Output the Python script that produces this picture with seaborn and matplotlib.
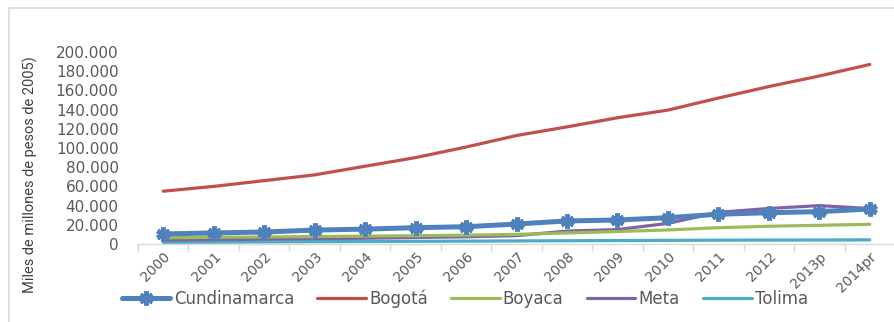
import matplotlib
matplotlib.use("Agg")
import matplotlib.pyplot as plt
import seaborn as sns
import pandas as pd
import numpy as np
from matplotlib.patches import Rectangle
from matplotlib.ticker import FuncFormatter, FixedLocator

years = ["2000", "2001", "2002", "2003", "2004", "2005", "2006", "2007",
         "2008", "2009", "2010", "2011", "2012", "2013p", "2014pr"]
cundinamarca = [10.5, 11.5, 12.5, 14.5, 15.5, 17.0, 18.0, 20.8, 24.0, 25.0, 27.4, 31.0, 32.6, 33.7, 36.5]
bogota = [55, 60, 66, 72, 81, 90, 101, 113, 122, 131.5, 139.5, 152, 164, 175, 187]
boyaca = [6.5, 7.0, 7.3, 7.8, 8.2, 8.6, 9.2, 10.0, 11.5, 13.0, 14.6, 17.0, 18.5, 19.5, 20.5]
meta = [4.0, 4.5, 5.0, 5.5, 6.0, 6.8, 7.5, 8.7, 13.5, 15.0, 21.5, 33.0, 37.0, 40.0, 37.0]
tolima = [1.8, 2.0, 2.2, 2.4, 2.6, 2.8, 3.0, 3.2, 3.4, 3.6, 3.8, 4.0, 4.1, 4.2, 4.3]
series_names = ["Cundinamarca", "Bogotá", "Boyaca", "Meta", "Tolima"]
series_vals = [cundinamarca, bogota, boyaca, meta, tolima]
colors = ["#4F81BD", "#C0504D", "#9BBB59", "#8064A2", "#4BACC6"]
yticks = [0, 20000, 40000, 60000, 80000, 100000, 120000, 140000, 160000, 180000, 200000]
ylabel = "Miles de millones de pesos de 2005)"

rows = []
for name, vals in zip(series_names, series_vals):
    for i, (yr, v) in enumerate(zip(years, vals)):
        rows.append({"pos": i, "year": yr, "serie": name, "valor": v * 1000})
df = pd.DataFrame(rows)

sns.set_theme(style="white")
plt.rcParams["font.family"] = ["DejaVu Sans"]

fig = plt.figure(figsize=(8.94, 3.22), dpi=100)
W, H = 894, 322
ax = fig.add_axes([138 / W, 1 - 244 / H, (895 - 138) / W, (244 - 52) / H])

palette = dict(zip(series_names, colors))
sizes = {"Cundinamarca": 3.6, "Bogotá": 2.3, "Boyaca": 2.3, "Meta": 2.3, "Tolima": 2.3}
for name in series_names[::-1]:
    sub = df[df["serie"] == name]
    kw = {}
    if name == "Cundinamarca":
        kw = dict(marker=(6, 2, 0), markersize=10, markeredgewidth=3.5,
                  markeredgecolor=palette[name])
    sns.lineplot(data=sub, x="pos", y="valor", color=palette[name], lw=sizes[name],
                 ax=ax, label=name, legend=False, zorder=5 if name == "Cundinamarca" else 3,
                 solid_capstyle="round", **kw)

ax.set_xlim(-0.5, len(years) - 0.5)
ax.set_ylim(0, 200000)
ax.set_xticks(range(len(years)))
ax.set_xticklabels(years, rotation=45, ha="right", rotation_mode="anchor",
                   fontsize=10, color="#595959")
ax.xaxis.set_minor_locator(FixedLocator(np.arange(-0.5, len(years), 1.0)))
ax.tick_params(axis="x", which="major", length=0, pad=4)
ax.tick_params(axis="x", which="minor", length=5, color="#d9d9d9", width=1, bottom=True)
ax.set_yticks(yticks)
ax.yaxis.set_major_formatter(FuncFormatter(lambda v, p: f"{int(v):,}".replace(",", ".")))
ax.tick_params(axis="y", length=0, pad=14, labelsize=11, labelcolor="#595959")
for s in ["top", "right", "left"]:
    ax.spines[s].set_visible(False)
ax.spines["bottom"].set_color("#d9d9d9")
ax.spines["bottom"].set_linewidth(1)
ax.set_xlabel("")
ax.set_ylabel("")
ax.grid(False)

fig.text(30 / W, 1 - 175 / H, ylabel, rotation=90, ha="center", va="center",
         fontsize=10.5, color="#404040", family=["Roboto", "DejaVu Sans"])

handles = {}
for line in ax.get_lines():
    handles[line.get_label()] = line
h = [handles[n] for n in series_names]
leg = fig.legend(h, series_names, loc="center", bbox_to_anchor=(465 / W, 1 - 299 / H),
                 ncol=5, frameon=False, fontsize=12, handlelength=2.9,
                 handletextpad=0.2, columnspacing=1.4)
for t in leg.get_texts():
    t.set_color("#595959")

fig.patches.append(Rectangle((9 / W, -0.1), 1.1, 1 - 8 / H + 0.1, transform=fig.transFigure,
                             fill=False, edgecolor="#d9d9d9", lw=1.2, figure=fig))

fig.savefig("out.png", dpi=100, facecolor="white")
